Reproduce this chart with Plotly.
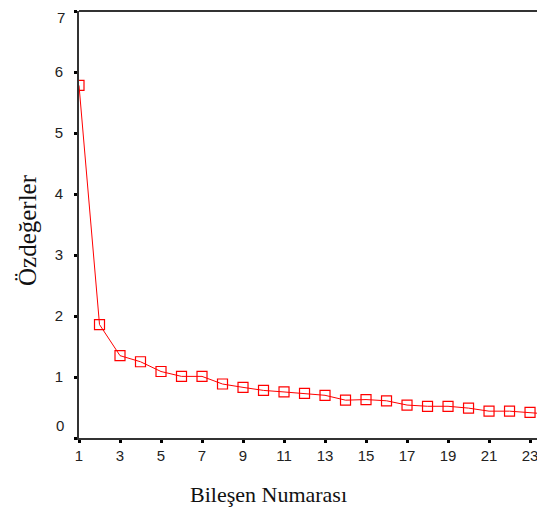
import plotly.graph_objects as go

components = list(range(1, 25))
eigenvalues = [5.78, 1.86, 1.35, 1.25, 1.09, 1.01, 1.01, 0.885, 0.83, 0.78,
               0.755, 0.73, 0.70, 0.62, 0.63, 0.61, 0.54, 0.52, 0.52, 0.49,
               0.44, 0.44, 0.42, 0.39]
x_ticks = list(range(1, 25, 2))
y_ticks = list(range(0, 8))
y_ticktext = [""] + [str(v) for v in y_ticks[1:-1]] + [""]

fig = go.Figure()
fig.add_trace(go.Scatter(
    x=components, y=eigenvalues, mode="lines+markers",
    line=dict(color="#FF0000", width=1),
    marker=dict(symbol="square-open", size=10, color="#FF0000", line=dict(width=1.2)),
    showlegend=False,
))

tick_font = dict(family="Liberation Sans, Arial", size=15, color="#222")
title_font = "Liberation Serif, Times New Roman"

fig.update_layout(
    width=537, height=507,
    margin=dict(l=71, r=0, t=3, b=77),
    paper_bgcolor="white", plot_bgcolor="white",
    font=tick_font,
    xaxis=dict(range=[1, 23.73], tickvals=x_ticks, showgrid=False, zeroline=False,
               showline=True, linecolor="#333", linewidth=2,
               ticks="outside", ticklen=3, tickwidth=3, tickcolor="#000",
               tickfont=tick_font),
    yaxis=dict(range=[0, 7], tickvals=y_ticks, ticktext=y_ticktext, showgrid=False,
               zeroline=False, showline=True, linecolor="#333", linewidth=2,
               ticks="outside", ticklen=3, tickwidth=3, tickcolor="#000",
               tickfont=tick_font, ticklabelstandoff=8),
    shapes=[dict(type="line", xref="paper", yref="paper", x0=0, x1=1, y0=1, y1=1,
                 line=dict(color="#333", width=2))],
    annotations=[
        dict(text="Bileşen Numarası", xref="paper", yref="paper",
             x=(268 - 79) / 466, y=-(495 - 438) / 427, xanchor="center", yanchor="middle",
             showarrow=False, font=dict(family=title_font, size=22, color="#111")),
        dict(text="Özdeğerler", xref="paper", yref="paper", textangle=-90,
             x=(27 - 79) / 466, y=(438 - 230) / 427, xanchor="center", yanchor="middle",
             showarrow=False, font=dict(family=title_font, size=25, color="#111")),
        dict(text="0", xref="paper", yref="paper", x=-(79 - 66) / 466, y=(438 - 425) / 427,
             xanchor="right", yanchor="middle", showarrow=False, font=tick_font),
        dict(text="7", xref="paper", yref="paper", x=-(79 - 66) / 466, y=1 + 3 / 427,
             xanchor="right", yanchor="top", showarrow=False, font=tick_font,
             borderpad=0),
    ],
)

fig.write_html("out.html")
